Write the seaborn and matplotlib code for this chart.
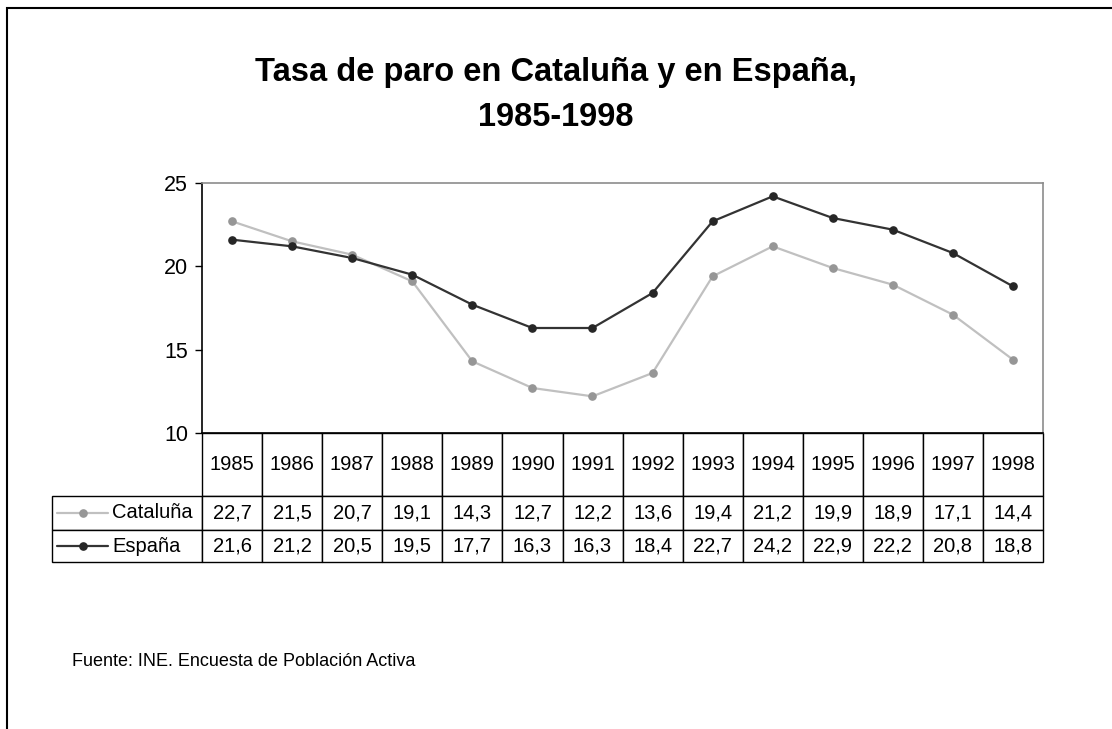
import matplotlib
matplotlib.use("Agg")
import matplotlib.pyplot as plt
from matplotlib.patches import Rectangle
import seaborn as sns
import pandas as pd

years = [1985, 1986, 1987, 1988, 1989, 1990, 1991, 1992, 1993, 1994, 1995, 1996, 1997, 1998]
cataluna = [22.7, 21.5, 20.7, 19.1, 14.3, 12.7, 12.2, 13.6, 19.4, 21.2, 19.9, 18.9, 17.1, 14.4]
espana = [21.6, 21.2, 20.5, 19.5, 17.7, 16.3, 16.3, 18.4, 22.7, 24.2, 22.9, 22.2, 20.8, 18.8]
series_names = ["Cataluña", "España"]
line_colors = {"Cataluña": "#c0c0c0", "España": "#333333"}
marker_colors = {"Cataluña": "#969696", "España": "#262626"}
yticks = [10, 15, 20, 25]

df = pd.DataFrame({
    "year": years * 2,
    "tasa": cataluna + espana,
    "serie": [series_names[0]] * len(years) + [series_names[1]] * len(years),
})

sns.set_style("white")
plt.rcParams["font.family"] = ["Liberation Sans", "DejaVu Sans"]
plt.rcParams["text.color"] = "black"
plt.rcParams["ytick.color"] = "black"

W, H = 1112, 729
fig = plt.figure(figsize=(W / 100, H / 100), dpi=100)
ax_w, ax_h = 1043 - 202, 433 - 183
ax = fig.add_axes([202 / W, (H - 433) / H, ax_w / W, ax_h / H])

sns.lineplot(data=df, x="year", y="tasa", hue="serie", palette=line_colors,
             linewidth=1.6, ax=ax, legend=False)
for name in series_names:
    sub = df[df["serie"] == name]
    ax.plot(sub["year"], sub["tasa"], linestyle="none", marker="o", markersize=5.2,
            color=marker_colors[name], zorder=3)

ax.set_xlim(years[0] - 0.5, years[-1] + 0.5)
ax.set_ylim(10, 25)
ax.set_yticks(yticks)
ax.set_xticks([])
ax.set_xlabel("")
ax.set_ylabel("")
ax.tick_params(axis="y", direction="out", length=5, width=1, color="black",
               labelcolor="black", labelsize=15.5, pad=5, left=True)
for side in ["left", "bottom"]:
    ax.spines[side].set_color("black")
    ax.spines[side].set_linewidth(1.2)
for side in ["top", "right"]:
    ax.spines[side].set_visible(True)
    ax.spines[side].set_color("#8c8c8c")
    ax.spines[side].set_linewidth(1.2)

# data table under the plot (first column holds the series names)
fmt = lambda v: f"{v:.1f}".replace(".", ",")
cell_text = [[""] + [str(y) for y in years],
             [series_names[0]] + [fmt(v) for v in cataluna],
             [series_names[1]] + [fmt(v) for v in espana]]
label_w = 202 - 52
table = ax.table(cellText=cell_text, cellLoc="center",
                 bbox=[-label_w / ax_w, -(562 - 433) / ax_h,
                       (1043 - 52) / ax_w, (562 - 433) / ax_h])
table.auto_set_font_size(False)
table.set_fontsize(14.5)
row_h = {0: 63, 1: 34, 2: 32}
for (r, c), cell in table.get_celld().items():
    cell.set_edgecolor("black")
    cell.set_linewidth(1.0)
    cell.set_height(row_h[r])
    cell.set_width(label_w if c == 0 else 60)
    cell.get_text().set_color("black")
    if c == 0:
        cell.PAD = 0.4
        cell.get_text().set_horizontalalignment("left")
        if r == 0:
            cell.visible_edges = ""

# legend keys inside the name cells
for name, yc in zip(series_names, [-(513 - 433) / ax_h, -(546 - 433) / ax_h]):
    ax.plot([-0.172, -0.112], [yc, yc], transform=ax.transAxes, clip_on=False,
            color=line_colors[name], linewidth=1.6, zorder=5)
    ax.plot([-0.142], [yc], transform=ax.transAxes, clip_on=False, marker="o",
            markersize=5.2, color=marker_colors[name], linestyle="none", zorder=6)

fig.text(0.5, 1 - 73 / H, "Tasa de paro en Cataluña y en España,", ha="center",
         va="center", fontsize=23.5, fontweight="bold")
fig.text(0.5, 1 - 118 / H, "1985-1998", ha="center", va="center",
         fontsize=23.5, fontweight="bold")
fig.text(72 / W, 1 - 661 / H, "Fuente: INE. Encuesta de Población Activa",
         ha="left", va="center", fontsize=13)

fig.patches.append(Rectangle((7 / W, -0.1), 1.2, 1.1 - 8 / H, transform=fig.transFigure,
                             fill=False, edgecolor="black", linewidth=1.5, figure=fig))

fig.savefig("out.png", dpi=100)
plt.close(fig)
